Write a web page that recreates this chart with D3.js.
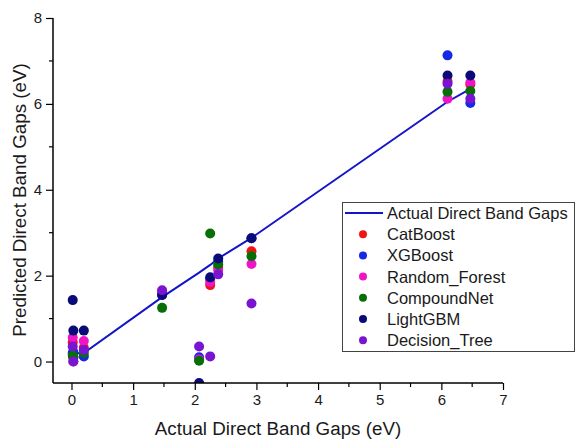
<!DOCTYPE html>
<html>
<head>
<meta charset="utf-8">
<script src="https://cdn.jsdelivr.net/npm/d3@7"></script>
<style>
  body { margin: 0; background: #fff; }
  text { font-family: "Liberation Sans", Arial, sans-serif; fill: #1a1a1a; }
</style>
</head>
<body>
<div id="chart"></div>
<script>
// actual band gaps of the test compounds (x axis)
var actual = [0.02, 0.03, 0.2, 1.47, 2.07, 2.25, 2.38, 2.92, 6.1, 6.47];

// fitted "Actual Direct Band Gaps" line
var lineX = [-0.03, 0.2, 1.47, 2.07, 2.25, 2.38, 2.92, 6.1, 6.47];
var lineY = [0.18, 0.2, 1.5, 2.07, 2.25, 2.4, 2.88, 6.05, 6.35];

// predictions per model
var catBoost     = [0.45, 0.1, 0.32, 1.6, 0.05, 1.78, 2.2, 2.57, 6.52, 6.45];
var xgBoost      = [0.2, 0.22, 0.12, 1.55, 0.1, 1.92, 2.32, 2.87, 7.13, 6.02];
var randomForest = [0.56, 0.0, 0.48, 1.62, 0.05, 1.85, 2.13, 2.27, 6.12, 6.5];
var compoundNet  = [0.14, 0.1, 0.2, 1.25, 0.02, 2.98, 2.26, 2.45, 6.28, 6.3];
var lightGBM     = [1.43, 0.72, 0.72, 1.55, -0.5, 1.96, 2.4, 2.87, 6.66, 6.66];
var decisionTree = [0.35, 0.0, 0.27, 1.66, 0.35, 0.12, 2.03, 1.35, 6.47, 6.12];

var seriesNames = ["CatBoost", "XGBoost", "Random_Forest", "CompoundNet", "LightGBM", "Decision_Tree"];
var seriesValues = [catBoost, xgBoost, randomForest, compoundNet, lightGBM, decisionTree];
var seriesColors = ["#f01414", "#1428e6", "#f014c8", "#067006", "#0a0a78", "#7814d2"];
var LINE_COLOR = "#1414c8";

var xTicks = [0, 1, 2, 3, 4, 5, 6, 7];
var yTicks = [0, 2, 4, 6, 8];

var width = 576, height = 439;
var plot_l = 53, plot_r = 503, plot_t = 18, plot_b = 383;

var svg = d3.select("#chart").append("svg")
  .attr("width", width)
  .attr("height", height);

var x = d3.scaleLinear().domain([-0.3, 7]).range([plot_l, plot_r]);
var y = d3.scaleLinear().domain([-0.5, 8]).range([plot_b, plot_t]);

svg.append("defs").append("clipPath")
  .attr("id", "plotclip")
  .append("rect")
  .attr("x", plot_l).attr("y", plot_t)
  .attr("width", plot_r - plot_l).attr("height", plot_b - plot_t);

var plot = svg.append("g").attr("clip-path", "url(#plotclip)");

// line
var line = d3.line().x(function(d) { return x(d[0]); }).y(function(d) { return y(d[1]); });
plot.append("path")
  .datum(lineX.map(function(v, i) { return [v, lineY[i]]; }))
  .attr("d", line)
  .attr("fill", "none")
  .attr("stroke", LINE_COLOR)
  .attr("stroke-width", 2);

// scatter points
seriesValues.forEach(function(vals, k) {
  plot.append("g")
    .selectAll("circle")
    .data(vals)
    .enter()
    .append("circle")
    .attr("cx", function(d, i) { return x(actual[i]); })
    .attr("cy", function(d) { return y(d); })
    .attr("r", 5)
    .attr("fill", seriesColors[k]);
});

// axes
var xAxis = d3.axisBottom(x).tickValues(xTicks).tickSize(7).tickPadding(4).tickFormat(d3.format("d"));
var yAxis = d3.axisLeft(y).tickValues(yTicks).tickSize(7).tickPadding(4).tickFormat(d3.format("d"));

var gx = svg.append("g").attr("transform", "translate(0," + plot_b + ")").call(xAxis);
var gy = svg.append("g").attr("transform", "translate(" + plot_l + ",0)").call(yAxis);

// minor ticks
var xMinor = d3.range(0.5, 7, 1);
var yMinor = [1, 3, 5, 7];
gx.selectAll(".minor").data(xMinor).enter().append("line")
  .attr("x1", function(d) { return x(d); }).attr("x2", function(d) { return x(d); })
  .attr("y1", 0).attr("y2", 4).attr("stroke", "#000").attr("stroke-width", 1.2);
gy.selectAll(".minor").data(yMinor).enter().append("line")
  .attr("y1", function(d) { return y(d); }).attr("y2", function(d) { return y(d); })
  .attr("x1", 0).attr("x2", -4).attr("stroke", "#000").attr("stroke-width", 1.2);

gx.select(".domain").attr("d", "M" + plot_l + ",0H" + plot_r);
gy.select(".domain").attr("d", "M0," + plot_b + "V" + plot_t);
[gx, gy].forEach(function(g) {
  g.select(".domain").attr("stroke", "#000").attr("stroke-width", 1.5);
  g.selectAll(".tick line").attr("stroke", "#000").attr("stroke-width", 1.2);
  g.selectAll(".tick text").attr("font-size", "15px").attr("fill", "#1a1a1a")
    .attr("font-family", "Liberation Sans, Arial, sans-serif");
});

// axis titles
svg.append("text")
  .attr("x", (plot_l + plot_r) / 2)
  .attr("y", 435)
  .attr("text-anchor", "middle")
  .attr("font-size", "18.8px")
  .text("Actual Direct Band Gaps (eV)");

svg.append("text")
  .attr("transform", "translate(26,200) rotate(-90)")
  .attr("text-anchor", "middle")
  .attr("font-size", "18.8px")
  .text("Predicted Direct Band Gaps (eV)");

// legend
var lg = svg.append("g");
lg.append("rect")
  .attr("x", 342.5).attr("y", 202.5)
  .attr("width", 232).attr("height", 149)
  .attr("fill", "#fff")
  .attr("stroke", "#444")
  .attr("stroke-width", 1);

var rowY = function(i) { return 213 + i * 21.2; };
lg.append("line")
  .attr("x1", 345).attr("x2", 383)
  .attr("y1", rowY(0)).attr("y2", rowY(0))
  .attr("stroke", LINE_COLOR).attr("stroke-width", 2);
lg.append("text")
  .attr("x", 387).attr("y", rowY(0) + 6)
  .attr("font-size", "16.5px")
  .text("Actual Direct Band Gaps");

seriesNames.forEach(function(name, k) {
  lg.append("circle")
    .attr("cx", 363).attr("cy", rowY(k + 1))
    .attr("r", 4)
    .attr("fill", seriesColors[k]);
  lg.append("text")
    .attr("x", 387).attr("y", rowY(k + 1) + 6)
    .attr("font-size", "16.5px")
    .text(name);
});
</script>
</body>
</html>
